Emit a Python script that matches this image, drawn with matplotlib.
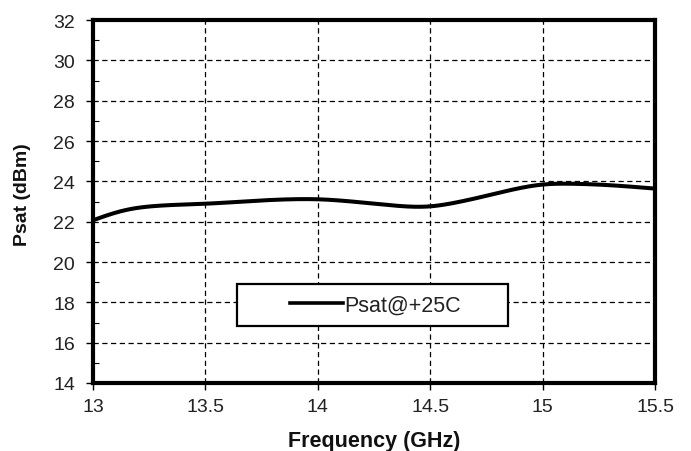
import matplotlib
matplotlib.use("Agg")
import matplotlib.pyplot as plt
import numpy as np
from matplotlib.ticker import MultipleLocator
from matplotlib.patches import Rectangle
from matplotlib.lines import Line2D

plt.rcParams['font.family'] = ['Liberation Sans', 'DejaVu Sans']

freq = [13.0, 13.075, 13.16, 13.28, 13.5, 13.73, 13.88, 14.0, 14.16, 14.31, 14.43, 14.5, 14.61, 14.76, 14.91, 15.0, 15.13, 15.28, 15.5]
psat = [22.07, 22.36, 22.61, 22.78, 22.89, 23.04, 23.11, 23.11, 22.99, 22.83, 22.74, 22.76, 22.94, 23.31, 23.69, 23.84, 23.88, 23.82, 23.64]
xticks = [13, 13.5, 14, 14.5, 15, 15.5]
xticklabels = ['13', '13.5', '14', '14.5', '15', '15.5']
yticks = list(range(14, 33, 2))
series_label = 'Psat@+25C'


def natural_spline(x, y, n=600):
    x = np.asarray(x, float); y = np.asarray(y, float)
    m = len(x); h = np.diff(x)
    A = np.zeros((m, m)); b = np.zeros(m)
    A[0, 0] = A[-1, -1] = 1
    for i in range(1, m - 1):
        A[i, i - 1] = h[i - 1]; A[i, i] = 2 * (h[i - 1] + h[i]); A[i, i + 1] = h[i]
        b[i] = 3 * ((y[i + 1] - y[i]) / h[i] - (y[i] - y[i - 1]) / h[i - 1])
    c = np.linalg.solve(A, b)
    bb = (y[1:] - y[:-1]) / h - h * (2 * c[:-1] + c[1:]) / 3
    d = (c[1:] - c[:-1]) / (3 * h)
    xs = np.linspace(x[0], x[-1], n)
    idx = np.clip(np.searchsorted(x, xs) - 1, 0, m - 2)
    dx = xs - x[idx]
    ys = y[idx] + bb[idx] * dx + c[idx] * dx ** 2 + d[idx] * dx ** 3
    return xs, ys


fig = plt.figure(figsize=(6.91, 4.52), dpi=100)
ax = fig.add_axes([93/691, 1-384/452, (655-93)/691, (384-21)/452])

sx, sy = natural_spline(freq, psat)
ax.plot(sx, sy, color='black', lw=2.9, solid_capstyle='butt', zorder=3)

ax.set_xlim(13, 15.5)
ax.set_ylim(14, 32)
ax.set_xticks(xticks)
ax.set_xticklabels(xticklabels)
ax.set_yticks(yticks)
ax.yaxis.set_minor_locator(MultipleLocator(1))
ax.grid(True, which='major', color='black', linestyle=(0, (4.2, 2.8)), lw=0.9)
ax.tick_params(axis='both', which='major', direction='out', length=5, width=1,
               labelsize=14, colors='black', labelcolor='#222222')
ax.tick_params(axis='y', which='major', pad=8)
ax.tick_params(axis='x', which='major', pad=6)
ax.tick_params(axis='y', which='minor', direction='in', length=4, width=0.8)
for s in ax.spines.values():
    s.set_linewidth(3.0)
    s.set_color('black')

ax.set_xlabel('Frequency (GHz)', fontsize=15.5, fontweight='bold', color='#111111')
ax.xaxis.set_label_coords(0.5, -0.130)
ax.set_ylabel('Psat (dBm)', fontsize=14, fontweight='bold', color='#111111')
ax.yaxis.set_label_coords(-0.110, 0.523)

# legend box
x0 = (237-93)/562; y0 = (384-326.5)/363; w = (508-237)/562; h = 41.5/363
ax.add_patch(Rectangle((x0, y0), w, h, transform=ax.transAxes, facecolor='white',
                       edgecolor='black', lw=1.6, zorder=4))
leg = ax.legend([Line2D([0], [0], color='black', lw=2.6)], [series_label], loc='center left',
                bbox_to_anchor=((290-93)/562, y0+h/2), frameon=False, fontsize=15.5,
                handlelength=2.45, handletextpad=0.05, borderpad=0, borderaxespad=0)
leg.set_zorder(5)
for t in leg.get_texts():
    t.set_color('#222222')

fig.savefig('out.png', dpi=100)
